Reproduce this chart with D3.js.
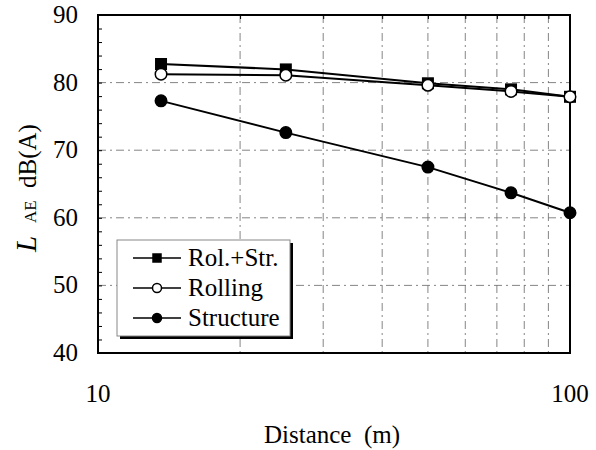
<!DOCTYPE html>
<html><head><meta charset="utf-8">
<script src="https://cdn.jsdelivr.net/npm/d3@7"></script>
<style>body{margin:0;background:#fff}svg{display:block}</style>
</head><body>
<svg id="c" width="596" height="450"></svg>
<script>
const distances = [13.6, 25, 50, 75, 100];
const rolStr = [82.75, 81.95, 79.9, 79.0, 77.9];
const rolling = [81.25, 81.1, 79.6, 78.7, 77.9];
const structure = [77.3, 72.6, 67.5, 63.7, 60.75];
const seriesNames = ["Rol.+Str.", "Rolling", "Structure"];
const xTickLabels = [10, 100];
const yTickLabels = [40, 50, 60, 70, 80, 90];

const svg = d3.select("#c");
const L = 98, R = 570, T = 15, B = 353;
const x = d3.scaleLog().domain([10, 100]).range([L, R]);
const y = d3.scaleLinear().domain([40, 90]).range([B, T]);
const font = "Liberation Serif";

// grid
const g = svg.append("g");
const vgrid = [20, 30, 40, 50, 60, 70, 80, 90];
g.selectAll(".vg").data(vgrid).enter().append("line")
  .attr("x1", d => x(d)).attr("x2", d => x(d)).attr("y1", T).attr("y2", B)
  .attr("stroke", "#777").attr("stroke-width", 0.9).attr("stroke-dasharray", "8,4,2,4");
g.selectAll(".hg").data([50, 60, 70, 80]).enter().append("line")
  .attr("x1", L).attr("x2", R).attr("y1", d => y(d)).attr("y2", d => y(d))
  .attr("stroke", "#777").attr("stroke-width", 0.9).attr("stroke-dasharray", "8,4,2,4");

// y axis with inner minor ticks
const yAxis = d3.axisLeft(y).tickValues(d3.range(40, 91, 2)).tickSize(-4).tickFormat("");
svg.append("g").attr("transform", `translate(${L},0)`).call(yAxis)
  .call(a => a.select(".domain").remove())
  .call(a => a.selectAll("line").attr("stroke", "#000").attr("stroke-width", 1));
const xAxisTop = d3.axisBottom(x).tickValues(vgrid).tickSize(4).tickFormat("");
svg.append("g").attr("transform", `translate(0,${T})`).call(xAxisTop)
  .call(a => a.select(".domain").remove())
  .call(a => a.selectAll("line").attr("stroke", "#000"));

// frame
svg.append("rect").attr("x", L).attr("y", T).attr("width", R - L).attr("height", B - T)
  .attr("fill", "none").attr("stroke", "#000").attr("stroke-width", 2);

// tick labels
svg.selectAll(".yl").data(yTickLabels).enter().append("text")
  .attr("x", 78).attr("y", d => y(d) + 8)
  .attr("text-anchor", "end").attr("font-family", font).attr("font-size", 25).text(d => d);
svg.selectAll(".xl").data(xTickLabels).enter().append("text")
  .attr("x", d => x(d)).attr("y", 402)
  .attr("text-anchor", "middle").attr("font-family", font).attr("font-size", 25).text(d => d);

// axis titles
svg.append("text").attr("x", 332).attr("y", 443)
  .attr("text-anchor", "middle").attr("font-family", font).attr("font-size", 25)
  .attr("xml:space", "preserve").text("Distance  (m)");
const yt = svg.append("g").attr("transform", "translate(36,252) rotate(-90)");
yt.append("text").attr("x", 0).attr("y", 0).attr("font-family", font)
  .attr("font-style", "italic").attr("font-size", 29).text("L");
yt.append("text").attr("x", 29).attr("y", 0).attr("font-family", font)
  .attr("font-size", 17).text("AE");
yt.append("text").attr("x", 64).attr("y", 0).attr("font-family", font)
  .attr("font-size", 25).text("dB(A)");

// series
const series = [
  {name: seriesNames[0], vals: rolStr, marker: "square", fill: "#000"},
  {name: seriesNames[1], vals: rolling, marker: "circle", fill: "#fff"},
  {name: seriesNames[2], vals: structure, marker: "circle", fill: "#000"}
];
const line = d3.line().x((d, i) => x(distances[i])).y(d => y(d));
function drawMarker(sel, type, fill, cx, cy, size) {
  if (type === "square") {
    sel.append("rect").attr("x", cx - size / 2).attr("y", cy - size / 2)
      .attr("width", size).attr("height", size)
      .attr("fill", fill).attr("stroke", "#000").attr("stroke-width", 1.5);
  } else {
    sel.append("circle").attr("cx", cx).attr("cy", cy).attr("r", size / 2)
      .attr("fill", fill).attr("stroke", "#000").attr("stroke-width", 1.5);
  }
}
series.forEach(s => {
  const gs = svg.append("g");
  gs.append("path").attr("d", line(s.vals)).attr("fill", "none")
    .attr("stroke", "#000").attr("stroke-width", 2);
  s.vals.forEach((v, i) => drawMarker(gs, s.marker, s.fill, x(distances[i]), y(v), s.marker === "square" ? 10.5 : 11.5));
});

// legend
const lg = svg.append("g");
lg.append("rect").attr("x", 120).attr("y", 243).attr("width", 173).attr("height", 96).attr("fill", "#000");
lg.append("rect").attr("x", 117).attr("y", 240).attr("width", 173).attr("height", 96)
  .attr("fill", "#fff").attr("stroke", "#888").attr("stroke-width", 1);
series.forEach((s, i) => {
  const ly = 258 + i * 30;
  lg.append("line").attr("x1", 133).attr("x2", 181).attr("y1", ly).attr("y2", ly)
    .attr("stroke", "#000").attr("stroke-width", 1.5);
  drawMarker(lg, s.marker, s.fill, 157, ly, s.marker === "square" ? 8 : 9);
  lg.append("text").attr("x", 188).attr("y", ly + 8)
    .attr("font-family", font).attr("font-size", 25).text(s.name);
});
</script>
</body></html>
